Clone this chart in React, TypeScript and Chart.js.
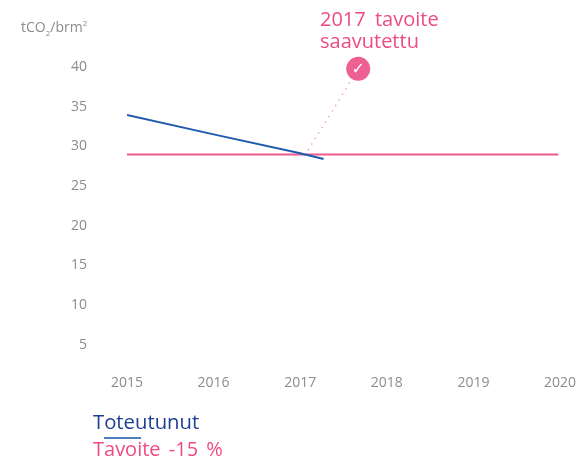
import React, { useEffect, useRef } from "react";
import { Chart, registerables } from "chart.js";

Chart.register(...registerables);

const yearTicks = [2015, 2016, 2017, 2018, 2019, 2020];
const valueTicks = [5, 10, 15, 20, 25, 30, 35, 40];
const actual = [
  { x: 2015, y: 33.93 },
  { x: 2016, y: 31.5 },
  { x: 2017, y: 29.13 },
  { x: 2017.27, y: 28.4 },
];
const target = [
  { x: 2014.99, y: 28.98 },
  { x: 2019.98, y: 28.98 },
];
const callout = [
  { x: 2017.09, y: 29.5 },
  { x: 2017.67, y: 39.75 },
];
const badge = [{ x: 2017.67, y: 39.75 }];
const BLUE = "#1f5bab";
const PINK = "#ee5a8c";
const FONT = '"Open Sans", sans-serif';

const checkPlugin = {
  id: "check",
  afterDatasetsDraw(chart: any) {
    const p = chart.getDatasetMeta(3).data[0];
    const ctx = chart.ctx;
    ctx.save();
    ctx.fillStyle = "#ffffff";
    ctx.font = '16px "DejaVu Sans", sans-serif';
    ctx.textAlign = "center";
    ctx.textBaseline = "middle";
    ctx.fillText("\u2713", p.x, p.y + 1);
    ctx.restore();
  },
};

const abs = (left: number, top: number, extra: React.CSSProperties): React.CSSProperties => ({
  position: "absolute",
  left,
  top,
  whiteSpace: "nowrap",
  fontFamily: FONT,
  ...extra,
});

export default function App() {
  const ref = useRef<HTMLCanvasElement>(null);
  useEffect(() => {
    const chart = new Chart(ref.current!, {
      type: "line",
      data: {
        datasets: [
          { data: target, borderColor: PINK, borderWidth: 2, pointRadius: 0, order: 2 },
          { data: actual, borderColor: BLUE, borderWidth: 2, pointRadius: 0, tension: 0, order: 1 },
          { data: callout, borderColor: "#f6a5c0", borderWidth: 1.5, borderDash: [1.5, 5], pointRadius: 0, order: 3 },
          { data: badge, pointRadius: 12, pointBackgroundColor: "#ee5f92", pointBorderWidth: 0, showLine: false, order: 0 },
        ],
      },
      options: {
        animation: false,
        responsive: false,
        layout: { padding: { top: 51, right: 18, left: 0, bottom: 0 } },
        plugins: { legend: { display: false }, tooltip: { enabled: false } },
        scales: {
          x: {
            type: "linear",
            min: 2015,
            max: 2020,
            grid: { display: false },
            border: { display: false },
            afterBuildTicks: (s: any) => { s.ticks = yearTicks.map((value) => ({ value })); },
            afterFit: (s: any) => { s.height = 90.3; s.paddingRight = 0; s.paddingLeft = 0; },
            ticks: {
              color: "#8c8c8c",
              padding: -2,
              maxRotation: 0,
              autoSkip: false,
              font: { family: FONT, size: 14 },
              callback: (v: any) => String(v),
            },
          },
          y: {
            min: 2,
            max: 42,
            grid: { display: false },
            border: { display: false },
            afterBuildTicks: (s: any) => { s.ticks = valueTicks.map((value) => ({ value })); },
            afterFit: (s: any) => { s.width = 127; },
            ticks: {
              color: "#8c8c8c",
              padding: 32,
              font: { family: FONT, size: 14 },
            },
          },
        },
      },
      plugins: [checkPlugin],
    } as any);
    return () => chart.destroy();
  }, []);

  return (
    <div style={{ position: "absolute", left: 0, top: 0, width: 578, height: 459, overflow: "hidden", background: "#fff" }}>
      <canvas ref={ref} width={578} height={459} style={{ position: "absolute", left: 0, top: 0 }} />
      <div style={abs(21, 17, { fontSize: 14, lineHeight: "20px", color: "#8c8c8c" })}>
        tCO<sub style={{ fontSize: 8, lineHeight: 0 }}>2</sub>/brm<sup style={{ fontSize: 8, lineHeight: 0 }}>2</sup>
      </div>
      <div style={abs(320, 8, { fontSize: 20, lineHeight: "22px", wordSpacing: 4, color: "#ef4b82" })}>
        2017 tavoite<br />saavutettu
      </div>
      <div style={abs(93, 408, { fontSize: 20.3, lineHeight: "27px", color: "#1d3f94" })}>Toteutunut</div>
      <div style={{ position: "absolute", left: 104, top: 437, width: 37, height: 2, background: "#4f7fc0" }} />
      <div style={abs(93, 435, { fontSize: 20, lineHeight: "27px", wordSpacing: 3, color: "#ef4b82" })}>Tavoite -15 %</div>
    </div>
  );
}
